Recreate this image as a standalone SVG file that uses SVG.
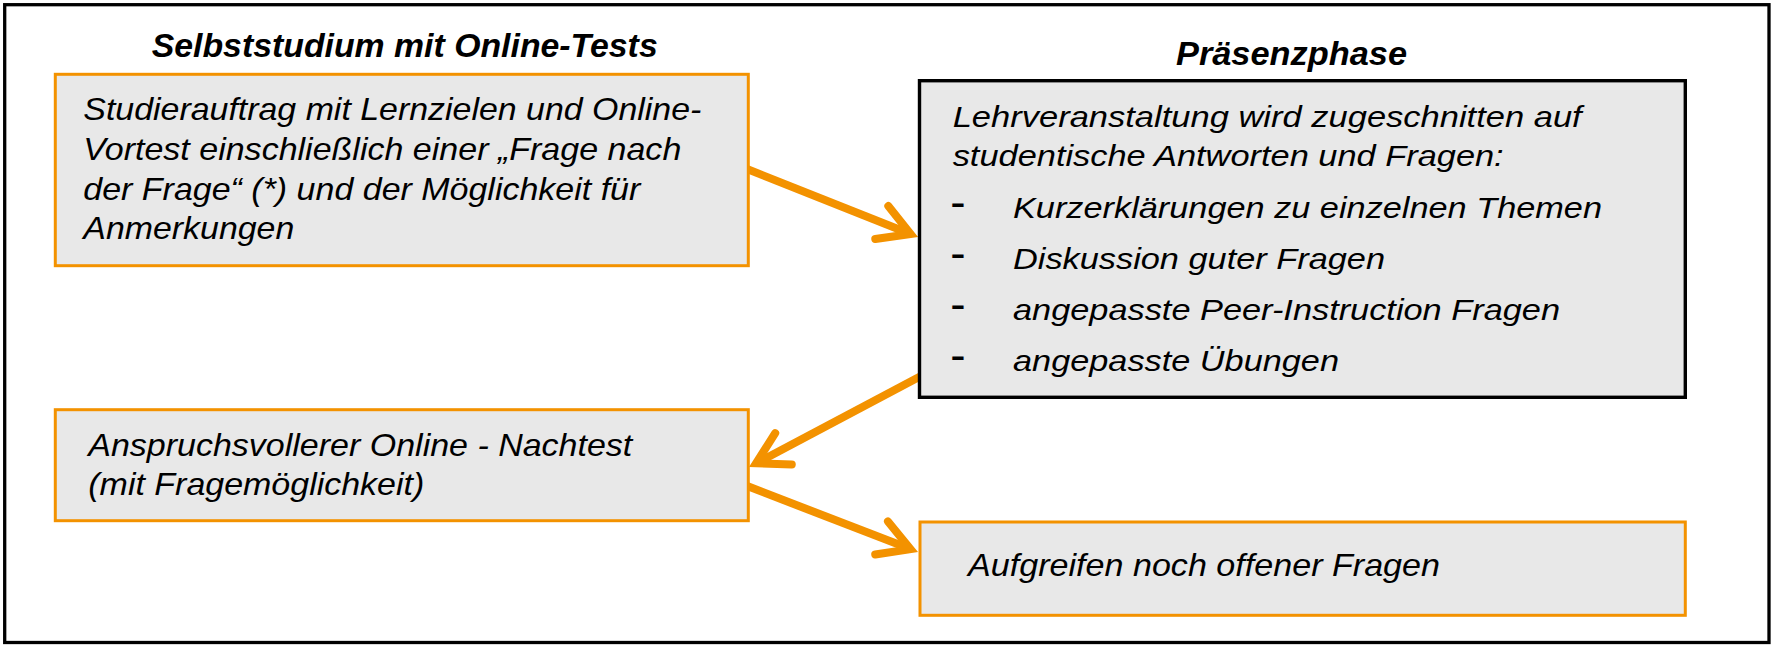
<svg xmlns="http://www.w3.org/2000/svg" width="1779" height="650" viewBox="0 0 1779 650">
  <style>
    .frame { fill: #FFFFFF; stroke: #000000; stroke-width: 3.3; }
    .box-o { fill: #E8E8E8; stroke: #F39200; stroke-width: 3; }
    .box-k { fill: #E8E8E8; stroke: #000000; stroke-width: 3.4; }
    .title { font-family: "Liberation Sans", Arial, sans-serif; font-weight: bold; font-style: italic; font-size: 32.5px; fill: #000000; }
    .txt { font-family: "Liberation Sans", Arial, sans-serif; font-style: italic; font-size: 32px; fill: #000000; }
    .txt2 { font-family: "Liberation Sans", Arial, sans-serif; font-style: italic; font-size: 30px; fill: #000000; }
    .dash { font-family: "Liberation Sans", Arial, sans-serif; font-size: 46px; fill: #000000; }
    .conn { fill: none; stroke: #F39200; stroke-width: 8; stroke-linecap: butt; }
    .head { fill: none; stroke: #F39200; stroke-width: 8; stroke-linecap: round; stroke-linejoin: miter; stroke-miterlimit: 10; }
  </style>
  <defs>
    <marker id="ah" markerUnits="userSpaceOnUse" orient="auto" viewBox="-50 -30 70 60" markerWidth="70" markerHeight="60" refX="0" refY="0" overflow="visible">
      <path class="head" d="M-31,-17.7 L0,0 L-31,17.7"/>
    </marker>
  </defs>

  <rect id="frame" class="frame" x="4.7" y="4.7" width="1764.3" height="637.8"/>

  <g id="titles">
    <text class="title" x="151.7" y="56.7" textLength="506" lengthAdjust="spacingAndGlyphs">Selbststudium mit Online-Tests</text>
    <text class="title" x="1176" y="64.5" textLength="231" lengthAdjust="spacingAndGlyphs">Präsenzphase</text>
  </g>

  <g id="connectors">
    <path class="conn" d="M741.4,166.8 L910.6,234" marker-end="url(#ah)"/>
    <path class="conn" d="M924.3,374.2 L756.1,463.3" marker-end="url(#ah)"/>
    <path class="conn" d="M741.4,483.8 L910.5,549.1" marker-end="url(#ah)"/>
  </g>

  <g id="node-studierauftrag">
    <rect class="box-o" x="55.3" y="74.3" width="693" height="191.4"/>
    <text class="txt" x="83.3" y="120" textLength="618" lengthAdjust="spacingAndGlyphs">Studierauftrag mit Lernzielen und Online-</text>
    <text class="txt" x="83.3" y="159.8" textLength="598" lengthAdjust="spacingAndGlyphs">Vortest einschließlich einer „Frage nach</text>
    <text class="txt" x="83.3" y="199.6" textLength="557" lengthAdjust="spacingAndGlyphs">der Frage“ (*) und der Möglichkeit für</text>
    <text class="txt" x="83.3" y="239.4" textLength="211" lengthAdjust="spacingAndGlyphs">Anmerkungen</text>
  </g>

  <g id="node-lehrveranstaltung">
    <rect class="box-k" x="919.5" y="80.7" width="765.8" height="316.6"/>
    <text class="txt2" x="952.7" y="127" textLength="629" lengthAdjust="spacingAndGlyphs">Lehrveranstaltung wird zugeschnitten auf</text>
    <text class="txt2" x="952.7" y="166" textLength="551" lengthAdjust="spacingAndGlyphs">studentische Antworten und Fragen:</text>
    <text class="dash" x="950.3" y="218.3">-</text>
    <text class="txt2" x="1013" y="218.3" textLength="589" lengthAdjust="spacingAndGlyphs">Kurzerklärungen zu einzelnen Themen</text>
    <text class="dash" x="950.3" y="269.3">-</text>
    <text class="txt2" x="1013" y="269.3" textLength="372" lengthAdjust="spacingAndGlyphs">Diskussion guter Fragen</text>
    <text class="dash" x="950.3" y="320.2">-</text>
    <text class="txt2" x="1013" y="320.2" textLength="547" lengthAdjust="spacingAndGlyphs">angepasste Peer-Instruction Fragen</text>
    <text class="dash" x="950.3" y="371">-</text>
    <text class="txt2" x="1013" y="371" textLength="326" lengthAdjust="spacingAndGlyphs">angepasste Übungen</text>
  </g>

  <g id="node-nachtest">
    <rect class="box-o" x="55.3" y="409.7" width="693" height="111"/>
    <text class="txt" x="88.3" y="456" textLength="544" lengthAdjust="spacingAndGlyphs">Anspruchsvollerer Online - Nachtest</text>
    <text class="txt" x="88.3" y="494.5" textLength="336" lengthAdjust="spacingAndGlyphs">(mit Fragemöglichkeit)</text>
  </g>

  <g id="node-aufgreifen">
    <rect class="box-o" x="920" y="522" width="765.3" height="93.3"/>
    <text class="txt" x="968" y="576" textLength="472" lengthAdjust="spacingAndGlyphs">Aufgreifen noch offener Fragen</text>
  </g>
</svg>
